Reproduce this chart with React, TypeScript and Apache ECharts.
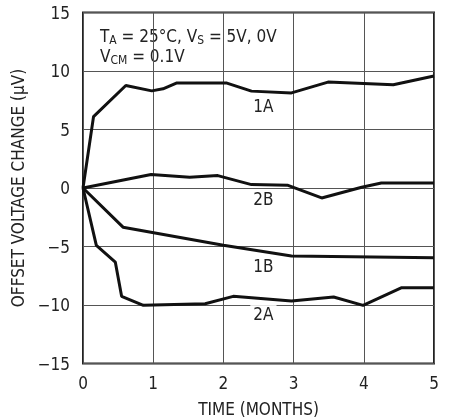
import React, { useEffect, useRef } from "react";
import * as echarts from "echarts";

const xTicks = [0, 1, 2, 3, 4, 5];
const yTicks = [-15, -10, -5, 0, 5, 10, 15];

const s1A: [number, number][] = [
  [0, 0], [0.15, 6.1], [0.61, 8.76], [0.98, 8.3], [1.14, 8.48], [1.33, 8.97],
  [2.05, 8.97], [2.4, 8.28], [2.97, 8.13], [3.49, 9.05], [4.42, 8.82], [5, 9.57],
];
const s2B: [number, number][] = [
  [0, 0], [0.97, 1.15], [1.52, 0.92], [1.92, 1.06], [2.4, 0.29], [2.92, 0.23],
  [3.4, -0.85], [3.97, 0.06], [4.25, 0.43], [5, 0.43],
];
const s1B: [number, number][] = [
  [0, 0], [0.57, -3.35], [2.0, -4.9], [2.97, -5.82], [5, -5.97],
];
const s2A: [number, number][] = [
  [0, 0], [0.19, -4.91], [0.46, -6.33], [0.55, -9.26], [0.86, -10.03], [1.74, -9.89],
  [2.14, -9.26], [2.97, -9.66], [3.57, -9.32], [3.99, -10.03], [4.54, -8.52], [5, -8.52],
];
const curveNames = ["1A", "2B", "1B", "2A"];
const labelPoints: [number, number][] = [
  [2.57, 7.04], [2.57, -0.94], [2.57, -6.68], [2.57, -10.74],
];

const FONT = "'Liberation Sans Narrow', 'DejaVu Sans Condensed', 'Liberation Sans', sans-serif";

export default function App() {
  const ref = useRef<HTMLDivElement>(null);
  useEffect(() => {
    if (!ref.current) return;
    const chart = echarts.init(ref.current, undefined, { renderer: "svg" });
    const lineSeries = [s1A, s2B, s1B, s2A].map((d, i) => ({
      type: "line",
      name: curveNames[i],
      data: d,
      showSymbol: false,
      symbol: "none",
      lineStyle: { color: "#111", width: 3 },
      z: 3,
    }));
    chart.setOption({
      animation: false,
      grid: {
        left: 83, right: 16, top: 12.5, bottom: 55.5,
        containLabel: false, outerBoundsMode: "none",
        show: true, borderColor: "#222", borderWidth: 2, backgroundColor: "transparent",
      },
      xAxis: {
        type: "value", min: xTicks[0], max: xTicks[xTicks.length - 1], interval: 1,
        axisLine: { show: false }, axisTick: { show: false },
        splitLine: { show: true, lineStyle: { color: "#555", width: 1 } },
        axisLabel: { color: "#222", fontFamily: FONT, fontSize: 17, margin: 11 },
        name: "TIME (MONTHS)", nameLocation: "middle", nameGap: 37,
        nameTextStyle: { color: "#222", fontFamily: FONT, fontSize: 17 },
      },
      yAxis: {
        type: "value", min: yTicks[0], max: yTicks[yTicks.length - 1], interval: 5,
        axisLine: { show: false }, axisTick: { show: false },
        splitLine: { show: true, lineStyle: { color: "#555", width: 1 } },
        axisLabel: {
          color: "#222", fontFamily: FONT, fontSize: 17, margin: 13,
          formatter: (v: number) => (v < 0 ? "\u2212" + Math.abs(v) : String(v)),
        },
        name: "OFFSET VOLTAGE CHANGE (\u00b5V)", nameLocation: "middle", nameGap: 47,
        nameTextStyle: { color: "#222", fontFamily: FONT, fontSize: 17 },
      },
      graphic: [
        {
          type: "group",
          z: 10,
          children: [
            { type: "rect", shape: { x: 87, y: 25, width: 188, height: 48 }, style: { fill: "#fff" } },
            {
              type: "text", x: 100, y: 26,
              style: {
                text: "T{s|A} = 25\u00b0C, V{s|S} = 5V, 0V\nV{s|CM} = 0.1V",
                fill: "#222", font: `17px ${FONT}`, lineHeight: 20,
                rich: { s: { fontSize: 12, fontFamily: FONT, fill: "#222", verticalAlign: "bottom", padding: [6, 0, 0, 0], lineHeight: 20 } },
              },
            },
          ],
        },
      ],
      series: [
        ...lineSeries,
        {
          type: "scatter",
          symbolSize: 0,
          itemStyle: { opacity: 1 },
          data: labelPoints.map((p, i) => ({ value: p, name: curveNames[i] })),
          z: 5,
          label: {
            show: true, position: "inside", formatter: "{b}",
            color: "#222", opacity: 1, fontFamily: FONT, fontSize: 17,
            backgroundColor: "#fff", padding: [0, 3],
          },
        },
      ],
    });
    return () => chart.dispose();
  }, []);
  return <div ref={ref} style={{ position: "fixed", left: 0, top: 0, width: 450, height: 419 }} />;
}
